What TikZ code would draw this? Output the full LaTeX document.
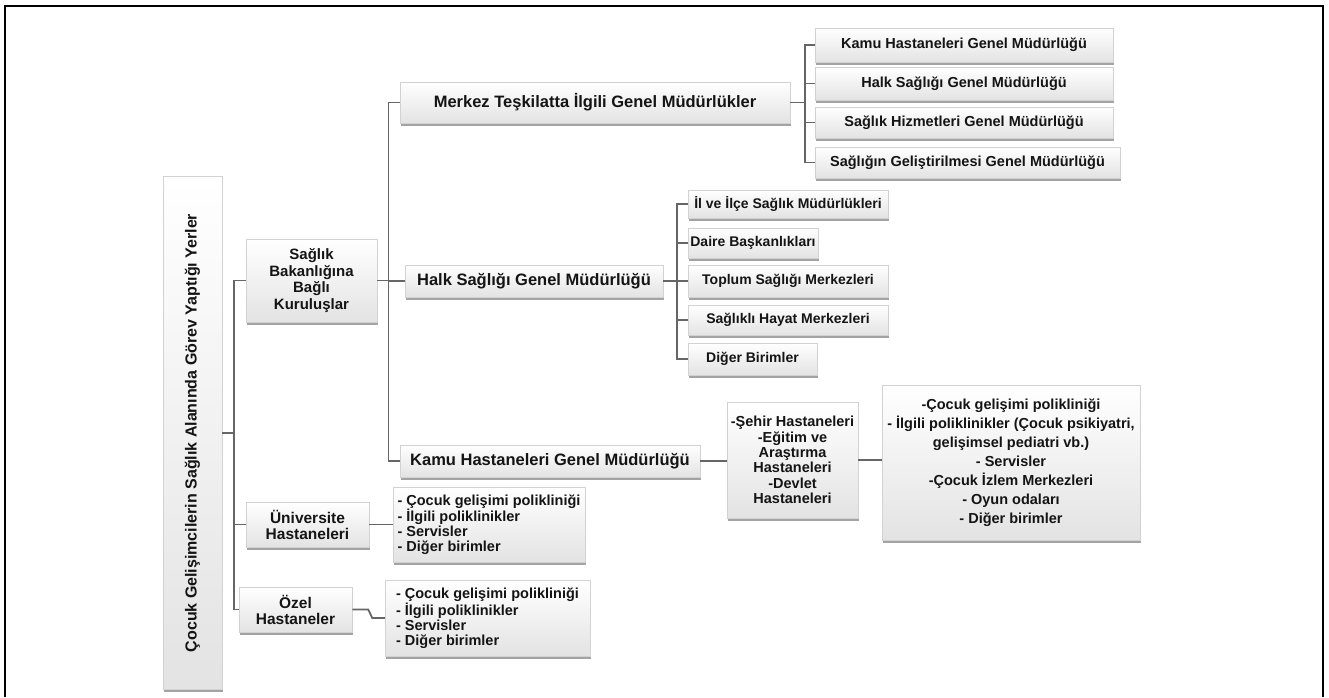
\documentclass[tikz,border=0pt]{standalone}
\usepackage{fontspec}
\setmainfont{Liberation Sans}
\usetikzlibrary{shadows}
\begin{document}
\begin{tikzpicture}[x=1pt,y=-1pt,
  box/.style={draw=gray!35, line width=0.5pt, top color=white, bottom color=gray!22,
    drop shadow={shadow xshift=1pt, shadow yshift=-2.5pt, fill=gray!80, opacity=0.9},
    inner sep=2pt, align=center, text=black!92,
    font=\bfseries\fontsize{14.5}{15}\selectfont},
  midf/.style={font=\bfseries\fontsize{16.5}{17}\selectfont},
  smallf/.style={font=\bfseries\fontsize{14}{15}\selectfont},
  conn/.style={draw=black!60, line width=1.8pt},
  frame/.style={draw=black, line width=2.2pt}]
\useasboundingbox (0,0) rectangle (1329,697);
\draw[frame] (5,697) -- (5,6) -- (1323,6) -- (1323,697);

% root
\node[box, minimum width=59, minimum height=513] (root) at (192.5,433) {};
\node[rotate=90, font=\bfseries\fontsize{16}{17}\selectfont, text=black!92] (roottxt) at (root.center)
  {Çocuk Gelişimcilerin Sağlık Alanında Görev Yaptığı Yerler};

% level 1
\node[box, minimum width=131, minimum height=83, font=\bfseries\fontsize{15}{16.7}\selectfont] (sb) at (311.5,280.5)
  {Sağlık\\Bakanlığına\\Bağlı\\Kuruluşlar};
\node[box, minimum width=123, minimum height=45, font=\bfseries\fontsize{15.5}{16}\selectfont] (uni) at (307.5,524.5)
  {Üniversite\\Hastaneleri};
\node[box, minimum width=113, minimum height=45, font=\bfseries\fontsize{15.5}{16}\selectfont] (ozel) at (295.5,609.5)
  {Özel\\Hastaneler};

% lists
\node[box, align=left, minimum width=192, minimum height=75] (unilist) at (489,524.5)
  {- Çocuk gelişimi polikliniği\\- İlgili poliklinikler\\- Servisler\\- Diğer birimler};
\node[box, align=left, minimum width=205, minimum height=76] (ozellist) at (487.5,618)
  {- Çocuk gelişimi polikliniği\\- İlgili poliklinikler\\- Servisler\\- Diğer birimler};

% level 2
\node[box, midf, minimum width=390, minimum height=41] (merkez) at (595,102.5)
  {Merkez Teşkilatta İlgili Genel Müdürlükler};
\node[box, midf, minimum width=258, minimum height=32] (halk) at (534,281)
  {Halk Sağlığı Genel Müdürlüğü};
\node[box, midf, minimum width=300, minimum height=32] (kamu) at (550,461)
  {Kamu Hastaneleri Genel Müdürlüğü};

% merkez children
\node[box, minimum width=298, minimum height=34] (m1) at (964,45) {Kamu Hastaneleri Genel Müdürlüğü};
\node[box, minimum width=298, minimum height=33] (m2) at (964,83.5) {Halk Sağlığı Genel Müdürlüğü};
\node[box, minimum width=298, minimum height=31] (m3) at (964,122.5) {Sağlık Hizmetleri Genel Müdürlüğü};
\node[box, minimum width=305, minimum height=31] (m4) at (967.5,162.5) {Sağlığın Geliştirilmesi Genel Müdürlüğü};

% halk children
\node[box, smallf, minimum width=200, minimum height=28] (h1) at (788,204) {İl ve İlçe Sağlık Müdürlükleri};
\node[box, smallf, minimum width=130, minimum height=30] (h2) at (753,243) {Daire Başkanlıkları};
\node[box, smallf, minimum width=200, minimum height=32] (h3) at (788,281) {Toplum Sağlığı Merkezleri};
\node[box, smallf, minimum width=200, minimum height=30] (h4) at (788,320) {Sağlıklı Hayat Merkezleri};
\node[box, smallf, minimum width=129, minimum height=32] (h5) at (752.5,359) {Diğer Birimler};

% kamu children
\node[box, minimum width=131, minimum height=116, font=\bfseries\fontsize{14.5}{15.4}\selectfont] (sehir) at (792.5,460)
  {-Şehir Hastaneleri\\-Eğitim ve\\Araştırma\\Hastaneleri\\-Devlet\\Hastaneleri};
\node[box, minimum width=258, minimum height=155, font=\bfseries\fontsize{14.5}{19}\selectfont] (big) at (1011,462.5)
  {-Çocuk gelişimi polikliniği\\- İlgili poliklinikler (Çocuk psikiyatri,\\gelişimsel pediatri vb.)\\- Servisler\\-Çocuk İzlem Merkezleri\\- Oyun odaları\\- Diğer birimler};

% connectors
\coordinate (t1) at (234,0);
\coordinate (t2) at (388.5,0);
\coordinate (t3) at (805,0);
\coordinate (t4) at (677,0);

\draw[conn] (root.east) -- (root.east -| t1);
\draw[conn] (sb.west) -- (sb.west -| t1) -- (ozel.west -| t1) -- (ozel.west);
\draw[conn] (uni.west -| t1) -- (uni.west);

\draw[conn] (sb.east) -- (sb.east -| t2);
\draw[conn] (merkez.west) -- (merkez.west -| t2) -- (kamu.west -| t2) -- (kamu.west);
\draw[conn] (halk.west -| t2) -- (halk.west);

\draw[conn] (merkez.east) -- (merkez.east -| t3);
\draw[conn] (m1.west) -- (m1.west -| t3) -- (m4.west -| t3) -- (m4.west);
\draw[conn] (m2.west -| t3) -- (m2.west);
\draw[conn] (m3.west -| t3) -- (m3.west);

\draw[conn] (halk.east) -- (halk.east -| t4);
\draw[conn] (h1.west) -- (h1.west -| t4) -- (h5.west -| t4) -- (h5.west);
\draw[conn] (h2.west -| t4) -- (h2.west);
\draw[conn] (h3.west -| t4) -- (h3.west);
\draw[conn] (h4.west -| t4) -- (h4.west);

\draw[conn] (kamu.east) -- (kamu.east -| sehir.west);
\draw[conn] (sehir.east) -- (sehir.east -| big.west);

\draw[conn] (uni.east) -- (uni.east -| unilist.west);
\draw[conn] (ozel.east) -- ++(16,0) -- ++(4,8.5) -- (ozellist.west);
\end{tikzpicture}
\end{document}
